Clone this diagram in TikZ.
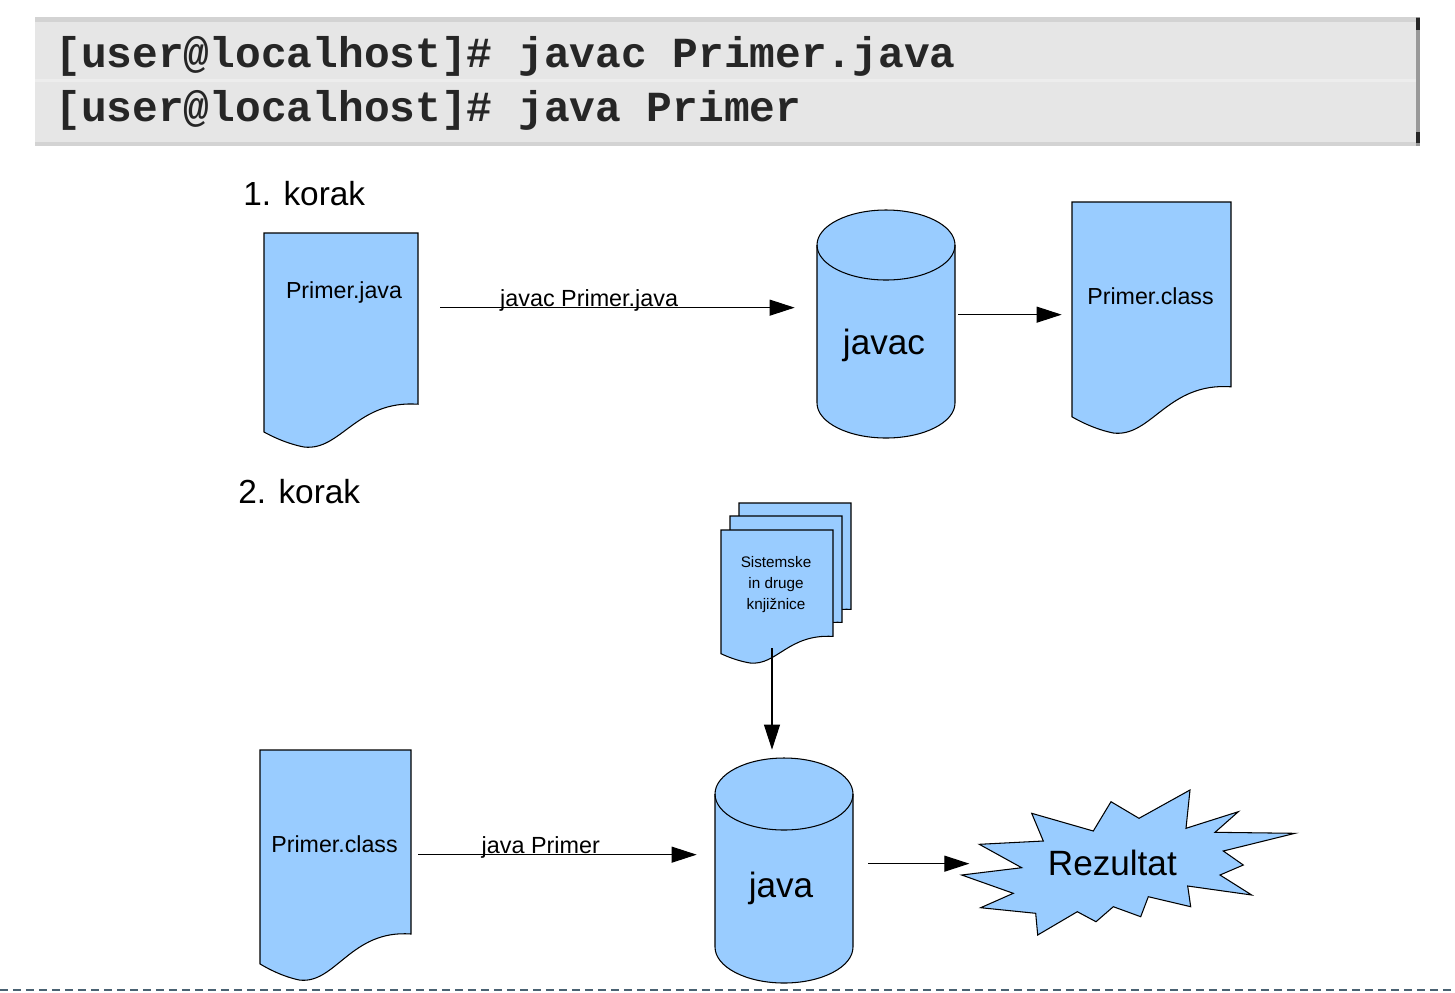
\documentclass[tikz,border=0pt]{standalone}
\usepackage{fontspec}
\setmainfont{Liberation Sans}
\newfontfamily\termfont{Liberation Mono}
\usepackage{tikz}
\usetikzlibrary{arrows.meta, fit, calc}
\definecolor{docblue}{HTML}{99CCFF}
\definecolor{termgray}{HTML}{E6E6E6}
\definecolor{termband}{HTML}{D3D3D3}
\definecolor{termlight}{HTML}{EDEDED}
\definecolor{rulecol}{HTML}{4A6272}
\tikzstyle{docline} = [draw=black, line width=0.6pt, fill=docblue]
\tikzstyle{rimline} = [draw=black, line width=0.6pt]
\tikzstyle{arrow} = [line width=0.6pt, -{Triangle[length=0.5cm, width=0.32cm]}]
\tikzstyle{doclabel} = [font=\fontsize{13.2}{16}\selectfont, inner sep=0pt, anchor=base]
\tikzstyle{arrowlabel} = [font=\fontsize{13.3}{16}\selectfont, inner sep=0pt, anchor=base, yshift=0.02cm]
\tikzstyle{biglabel} = [font=\fontsize{20}{24}\selectfont, inner sep=0pt, anchor=base]
\tikzstyle{steplabel} = [font=\fontsize{19}{23}\selectfont, inner sep=0pt, anchor=base west]
\tikzstyle{termtext} = [font=\termfont\bfseries\fontsize{24.4}{28}\selectfont, text=black!85, inner sep=0pt, anchor=base west]

% document sheet: name, left, top, width, height (in px)
\newcommand{\docshape}[5]{%
  \begin{scope}[shift={(#2,-#3)}]
    \filldraw[docline] (0,0) -- (#4,0) -- (#4,{-0.8*#5})
      .. controls ({0.6*#4},{-0.78*#5}) and ({0.5*#4},{-1.02*#5}) .. ({0.26*#4},-#5)
      .. controls ({0.15*#4},{-0.985*#5}) and ({0.05*#4},{-0.95*#5}) .. (0,{-0.93*#5}) -- cycle;
  \end{scope}
  \node[fit={(#2,-#3) ({#2+#4},{-#3-#5})}, inner sep=0pt] (#1) {};}

% drum: name, left, top, width, height, x radius, y radius
\newcommand{\cylshape}[7]{%
  \begin{scope}[shift={(#2,-#3)}]
    \filldraw[docline] (0,-#7) -- (0,{-#5+#7}) arc[start angle=180, end angle=360, x radius=#6, y radius=#7]
      -- (#4,-#7) arc[start angle=0, end angle=180, x radius=#6, y radius=#7] -- cycle;
    \draw[rimline] (0,-#7) arc[start angle=180, end angle=360, x radius=#6, y radius=#7];
  \end{scope}
  \node[fit={(#2,-#3) ({#2+#4},{-#3-#5})}, inner sep=0pt] (#1) {};}

\begin{document}
\begin{tikzpicture}[x=0.02cm, y=0.02cm]
    \useasboundingbox (0,0) rectangle (1455,-992);

    % terminal
    \fill[termgray] (35,-17) rectangle (1420,-146);
    \fill[termband] (35,-17) rectangle (1416,-22);
    \fill[termband] (35,-142) rectangle (1416,-146);
    \fill[termlight] (35,-79) rectangle (1416,-82);
    \fill[black!40] (1416,-17) rectangle (1420,-146);
    \fill[black!85] (1416,-18) rectangle (1420,-30);
    \fill[black!85] (1416,-132) rectangle (1420,-143);
    \node[termtext] (cmd1) at (55,-67) {[user@localhost]\# javac Primer.java};
    \node[termtext] (cmd2) at (55,-121) {[user@localhost]\# java Primer};

    % 1. korak
    \node[steplabel] (step1) at (243,-205) {1. korak};
    \docshape{pjava}{264}{233}{154}{214}
    \cylshape{javac}{817}{210}{138}{228}{69}{35}
    \docshape{pclass1}{1072}{202}{159}{231}
    \node[doclabel] at ($(pjava.north)+(3,-66)$) {Primer.java};
    \node[biglabel] at ($(javac.north)+(-2,-145)$) {javac};
    \node[doclabel] at ($(pclass1.north)+(-1,-103)$) {Primer.class};

    \draw[arrow] ($(pjava.north east)+(22,-75)$) -- ($(pjava.north east -| javac.west)+(-22,-75)$)
        node[arrowlabel, pos=0.42] {javac Primer.java};
    \draw[arrow] ($(javac.north east)+(3,-105)$) -- ($(javac.north east -| pclass1.west)+(-10,-105)$);

    % 2. korak
    \node[steplabel] (step2) at (238,-503) {2. korak};
    \docshape{lib1}{739}{503}{112}{133}
    \docshape{lib2}{730}{516}{112}{133}
    \docshape{lib3}{721}{530}{112}{133}
    \node[align=center, font=\fontsize{8.7}{11.9}\selectfont, inner sep=0pt] at ($(lib3.north)+(-1,-55)$) {Sistemske\\in druge\\knjižnice};
    \docshape{pclass2}{260}{750}{151}{230}
    \node[doclabel] at ($(pclass2.north)+(-1,-103)$) {Primer.class};
    \cylshape{java}{715}{758}{138}{225}{69}{36}
    \node[biglabel] at ($(java.north)+(-3,-140)$) {java};

    \filldraw[docline] (961.7,-875) -- (1021.7,-867.7) -- (979.3,-844.3) -- (1043.3,-841) -- (1031.7,-813.3)
        -- (1093.3,-831) -- (1111,-801.7) -- (1139,-818.3) -- (1190,-790) -- (1186,-828.3) -- (1238.3,-811.7)
        -- (1215,-832.3) -- (1295,-833.3) -- (1223.3,-851) -- (1243.3,-865) -- (1220,-875) -- (1251.7,-895)
        -- (1187.7,-886) -- (1190.7,-906.7) -- (1148.3,-896.7) -- (1140.7,-916.7) -- (1113.3,-906.7)
        -- (1096,-921.7) -- (1077.3,-911.7) -- (1037.7,-935) -- (1035.7,-913.3) -- (980.7,-907.7)
        -- (1013.3,-893.3) -- cycle;
    \node[fit={(961.7,-790) (1295,-935)}, inner sep=0pt] (rez) {};
    \node[biglabel] at ($(rez.north)+(-16,-86)$) {Rezultat};

    \draw[arrow] ($(lib3.south)+(-5,15)$) -- ($(lib3.south |- java.north)+(-5,8)$);
    \draw[arrow] ($(pclass2.north east)+(7,-105)$) -- ($(pclass2.north east -| java.west)+(-18,-105)$)
        node[arrowlabel, pos=0.44] {java Primer};
    \draw[arrow] ($(java.north east)+(15,-106)$) -- ($(java.north east -| rez.west)+(8,-106)$);

    % separator
    \draw[rulecol, line width=1.1pt, dash pattern=on 0.16cm off 0.1cm] (0,-990) -- (1455,-990);
\end{tikzpicture}
\end{document}
